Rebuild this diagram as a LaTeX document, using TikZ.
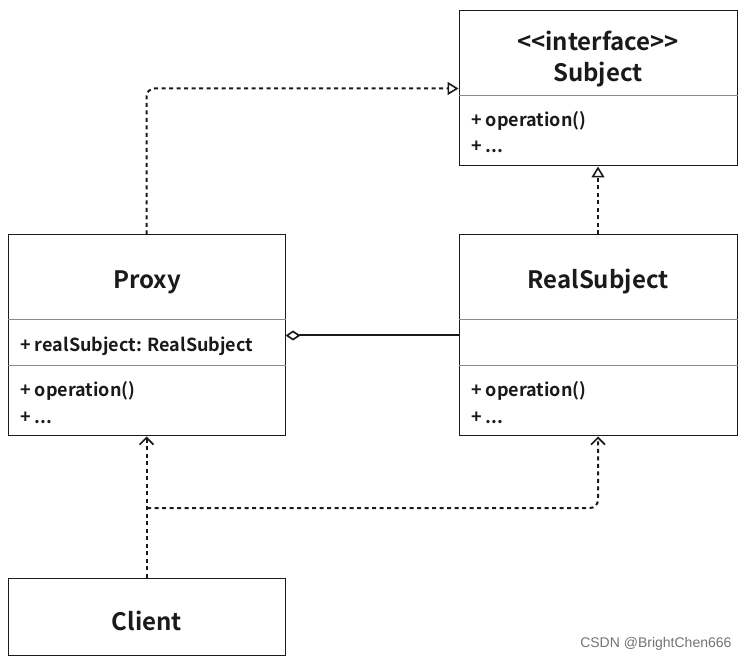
\documentclass[tikz,border=0pt]{standalone}
\usepackage{fontspec}
\setmainfont{Noto Sans CJK SC}[BoldFont={Noto Sans CJK SC Bold}]
\newfontfamily\wmfont{Liberation Sans}
\usetikzlibrary{arrows.meta}
\definecolor{ink}{HTML}{1A1A1A}
\definecolor{divider}{HTML}{8A8A8A}
\tikzset{
  umlbox/.style={draw=ink, line width=1pt, rectangle, inner sep=0pt, fill=white},
  divline/.style={draw=divider, line width=1pt},
  title/.style={font=\fontsize{24}{28}\selectfont\bfseries, text=ink, yshift=-3pt},
  member/.style={font=\fontsize{18}{21}\selectfont\bfseries, text=ink, anchor=west, inner sep=0pt, yshift=-2pt},
  dep/.style={draw=ink, line width=2pt, dash pattern=on 4pt off 3.5pt},
  realtip/.tip={Triangle[open, length=11pt, width=13pt, line width=1.6pt]},
  usetip/.tip={Straight Barb[length=7pt, width=14pt, line width=1.7pt]},
  aggtip/.tip={Diamond[open, length=15pt, width=10pt, line width=1.6pt]},
}
\begin{document}
\begin{tikzpicture}[x=1pt, y=-1pt]
\useasboundingbox (0,0) rectangle (748,663);
% boxes
\node[umlbox, minimum width=278pt, minimum height=155pt] (subject) at (598,88.5) {};
\node[umlbox, minimum width=277pt, minimum height=201pt] (proxy) at (146.5,335.5) {};
\node[umlbox, minimum width=278pt, minimum height=201pt] (real) at (598,335.5) {};
\node[umlbox, minimum width=277pt, minimum height=77pt] (client) at (146.5,616.5) {};
% dividers
\draw[divline] (subject.west |- 0,96) -- (subject.east |- 0,96);
\draw[divline] (proxy.west |- 0,320) -- (proxy.east |- 0,320);
\draw[divline] (proxy.west |- 0,366) -- (proxy.east |- 0,366);
\draw[divline] (real.west |- 0,320) -- (real.east |- 0,320);
\draw[divline] (real.west |- 0,366) -- (real.east |- 0,366);
% texts
\node[title] (subjst) at (598,38) {<\kern0pt<interface>\kern0pt>};
\node[title] (subjname) at (598,72) {Subject};
\node[member] (subjop) at (471,119) {+ operation()};
\node[member] (subjdots) at (471,145) {+ ...};
\node[title] (proxyname) at (147,279) {Proxy};
\node[member] (proxyattr) at (20,344) {+ realSubject: RealSubject};
\node[member] (proxyop) at (20,389) {+ operation()};
\node[member] (proxydots) at (20,416) {+ ...};
\node[title] (realname) at (598,279) {RealSubject};
\node[member] (realop) at (471,389) {+ operation()};
\node[member] (realdots) at (471,416) {+ ...};
\node[title] (clientname) at (147,618) {Client};
\node[font=\wmfont\fontsize{14}{16}\selectfont, text=black!55, anchor=east] (wm) at (735,644) {CSDN @BrightChen666};
% connectors
\draw[dep, -{realtip}, rounded corners=8pt] (proxy.north) |- (subject.west);
\draw[dep, -{realtip}] (real.north) -- (subject.south);
\draw[draw=ink, line width=2pt, {aggtip}-] (proxy.east) -- (real.west);
\draw[dep, -{usetip}] (client.north) -- (proxy.south);
\coordinate (branch) at (147,508);
\draw[dep, -{usetip}, rounded corners=8pt] (branch) -| (real.south);
\end{tikzpicture}
\end{document}
